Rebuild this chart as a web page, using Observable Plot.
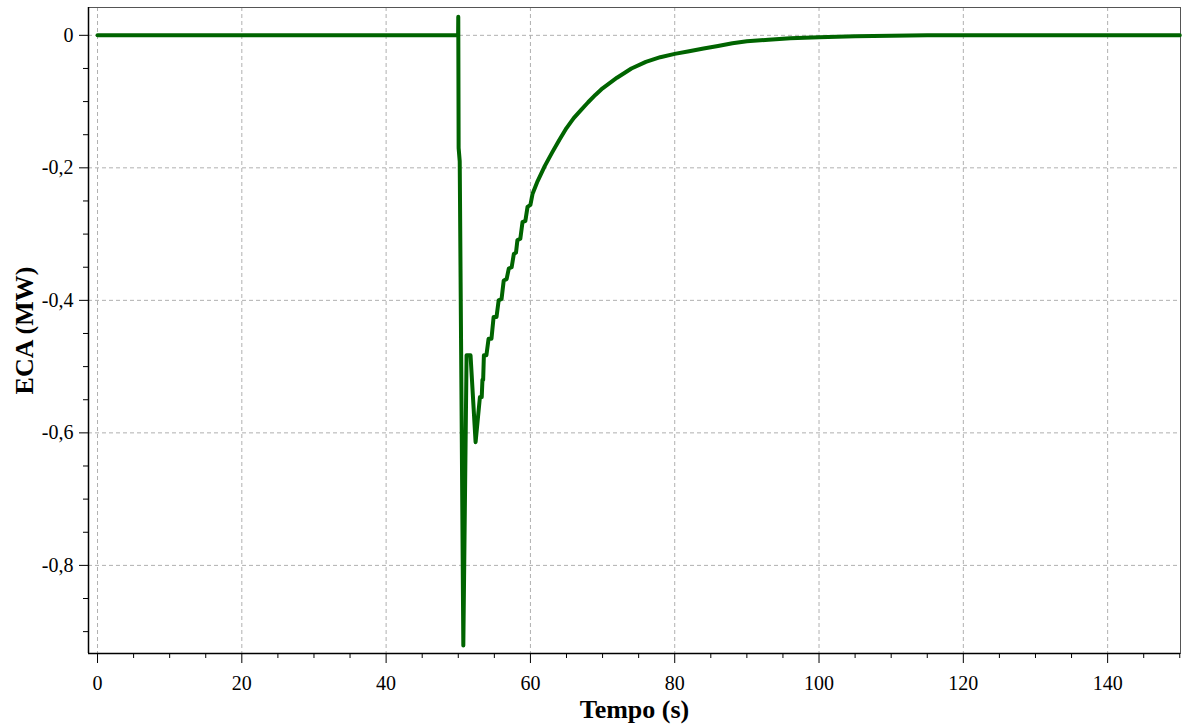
<!DOCTYPE html>
<html>
<head>
<meta charset="utf-8">
<script src="https://cdn.jsdelivr.net/npm/d3@7"></script>
<script src="https://cdn.jsdelivr.net/npm/@observablehq/plot@0.6"></script>
<style>
  html, body { margin: 0; padding: 0; background: #fff; }
  #chart { width: 1192px; height: 727px; }
  #chart svg text { font-family: 'Liberation Serif', 'Times New Roman', serif; }
</style>
</head>
<body>
<div id="chart"></div>
<script>
// Time (s)
const time = [0, 49.98, 50.0, 50.05, 50.2, 50.7, 51.15, 51.7, 52.4, 53.0, 53.25, 53.35, 53.45, 53.55, 53.9, 54.2, 54.6, 54.9, 55.3, 55.6, 56.0, 56.3, 56.7, 57.0, 57.4, 57.7, 58.0, 58.2, 58.6, 58.9, 59.3, 59.6, 60.0, 60.3, 61.0, 62.0, 63.0, 64.0, 65.0, 66.0, 67.0, 68.0, 69.0, 70.0, 72.0, 74.0, 76.0, 78.0, 80.0, 82.0, 84.0, 86.0, 88.0, 90.0, 93.0, 96.0, 100, 105, 110, 115, 150];
// ECA (MW)
const eca = [0, 0, 0.028, -0.17, -0.19, -0.921, -0.483, -0.483, -0.614, -0.546, -0.546, -0.52, -0.52, -0.483, -0.483, -0.458, -0.458, -0.425, -0.425, -0.40, -0.398, -0.37, -0.368, -0.352, -0.350, -0.33, -0.328, -0.309, -0.307, -0.282, -0.280, -0.259, -0.256, -0.239, -0.220, -0.197, -0.177, -0.158, -0.140, -0.125, -0.113, -0.101, -0.090, -0.080, -0.064, -0.050, -0.040, -0.033, -0.028, -0.024, -0.020, -0.016, -0.012, -0.009, -0.0065, -0.0045, -0.0028, -0.0015, -0.0006, 0, 0];

const xMajor = [0, 20, 40, 60, 80, 100, 120, 140];
const xMinor = [5, 10, 15, 25, 30, 35, 45, 50, 55, 65, 70, 75, 85, 90, 95, 105, 110, 115, 125, 130, 135, 145, 150];
const yMajor = [0, -0.2, -0.4, -0.6, -0.8];
const yMinor = [-0.05, -0.1, -0.15, -0.25, -0.3, -0.35, -0.45, -0.5, -0.55, -0.65, -0.7, -0.75, -0.85, -0.9];
const xDomain = [-1.25, 150.1];
const yDomain = [-0.933, 0.042];
const xTitle = ["Tempo (s)"];
const yTitle = ["ECA (MW)"];

const data = time.map((t, i) => ({t, v: eca[i]}));
const yFmt = d => d === 0 ? "0" : d.toFixed(1).replace(".", ",");

const font = "'Liberation Serif', 'Times New Roman', serif";

const chart = Plot.plot({
  width: 1192,
  height: 727,
  marginLeft: 88,
  marginRight: 12,
  marginTop: 7,
  marginBottom: 74,
  style: {fontFamily: font, fontSize: "20px", color: "#000", background: "#fff"},
  x: {domain: xDomain},
  y: {domain: yDomain},
  marks: [
    Plot.gridX(xMajor, {stroke: "#b0b0b0", strokeOpacity: 1, strokeDasharray: "4,3"}),
    Plot.gridY(yMajor, {stroke: "#b0b0b0", strokeOpacity: 1, strokeDasharray: "4,3"}),
    Plot.frame({stroke: "#555", strokeWidth: 1}),
    Plot.ruleX([xDomain[0]], {stroke: "#000", strokeWidth: 1.5}),
    Plot.ruleY([yDomain[0]], {stroke: "#000", strokeWidth: 1.5}),
    Plot.axisX(xMajor, {tickSize: 10, tickPadding: 12, tickFormat: d => String(d), label: null, fontSize: 20, fontFamily: font, stroke: "#000"}),
    Plot.axisX(xMinor, {tickSize: 5, tickFormat: () => "", label: null, stroke: "#000"}),
    Plot.axisY(yMajor, {tickSize: 9, tickPadding: 6, tickFormat: yFmt, label: null, fontSize: 20, fontFamily: font, stroke: "#000"}),
    Plot.axisY(yMinor, {tickSize: 5, tickFormat: () => "", label: null, stroke: "#000"}),
    Plot.line(data, {x: "t", y: "v", stroke: "#006400", strokeWidth: 4, strokeLinejoin: "round"}),
    Plot.text(xTitle, {text: d => d, frameAnchor: "bottom", lineAnchor: "middle", textAnchor: "middle", dy: 56, fontWeight: "bold", fontSize: 26, fontFamily: font, fill: "#000"}),
    Plot.text(yTitle, {text: d => d, frameAnchor: "left", textAnchor: "middle", lineAnchor: "middle", dx: -64, rotate: -90, fontWeight: "bold", fontSize: 26, fontFamily: font, fill: "#000"})
  ]
});
document.getElementById("chart").appendChild(chart);
</script>
</body>
</html>
